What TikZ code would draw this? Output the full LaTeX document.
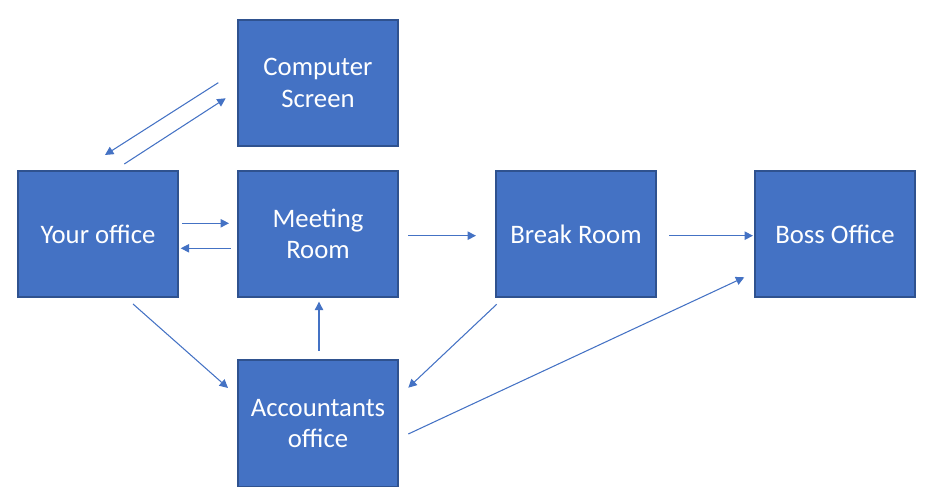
\documentclass[tikz,border=0pt]{standalone}
\usepackage{fontspec}
\setmainfont{Carlito}
\usetikzlibrary{arrows.meta}
\definecolor{boxfill}{HTML}{4472C4}
\definecolor{boxline}{HTML}{2F528F}
\begin{document}
\begin{tikzpicture}[x=0.025cm, y=0.025cm,
    room/.style={draw=boxline, line width=1.4pt, fill=boxfill, text=white,
        minimum width=4cm, minimum height=3.15cm, align=center,
        font=\fontsize{19}{22.5}\selectfont},
    link/.style={draw=boxfill, line width=0.75pt, -{Triangle[length=6pt,width=6pt]}}]
    \useasboundingbox (0,0) rectangle (928,503);
    % rooms
    \node[room] (comp) at (318, 420) {Computer\\Screen};
    \node[room] (you)  at (98, 269)  {Your office};
    \node[room] (meet) at (318, 269) {Meeting\\Room};
    \node[room] (brk)  at (576, 269) {Break Room};
    \node[room] (boss) at (835, 269) {Boss Office};
    \node[room] (acc)  at (318, 79.5) {Accountants\\office};
    % your office <-> computer screen
    \draw[link] ([shift={(-18.7,0.3)}]comp.west) -- ([shift={(7,15)}]you.north);
    \draw[link] ([shift={(26.3,6)}]you.north) -- ([shift={(-11.3,-15.3)}]comp.west);
    % your office <-> meeting room
    \draw[link] ([shift={(3,10.7)}]you.east) -- ([shift={(-8,10.7)}]meet.west);
    \draw[link] ([shift={(-6.3,-14.3)}]meet.west) -- ([shift={(1.7,-14.3)}]you.east);
    % along the corridor
    \draw[link] ([shift={(9,-1.7)}]meet.east) -- ([shift={(-19,-1.7)}]brk.west);
    \draw[link] ([shift={(12,-1.7)}]brk.east) -- ([shift={(-1,-1.7)}]boss.west);
    % accountants office
    \draw[link] ([shift={(35,-6)}]you.south) -- ([shift={(-9,35.5)}]acc.west);
    \draw[link] ([shift={(1,8.5)}]acc.north) -- ([shift={(1,-3.7)}]meet.south);
    \draw[link] ([shift={(1.7,-6.3)}]brk.south west) -- ([shift={(9.3,35.8)}]acc.east);
    \draw[link] ([shift={(9.3,-10.5)}]acc.east) -- ([shift={(-9.7,-43.3)}]boss.west);
\end{tikzpicture}
\end{document}
